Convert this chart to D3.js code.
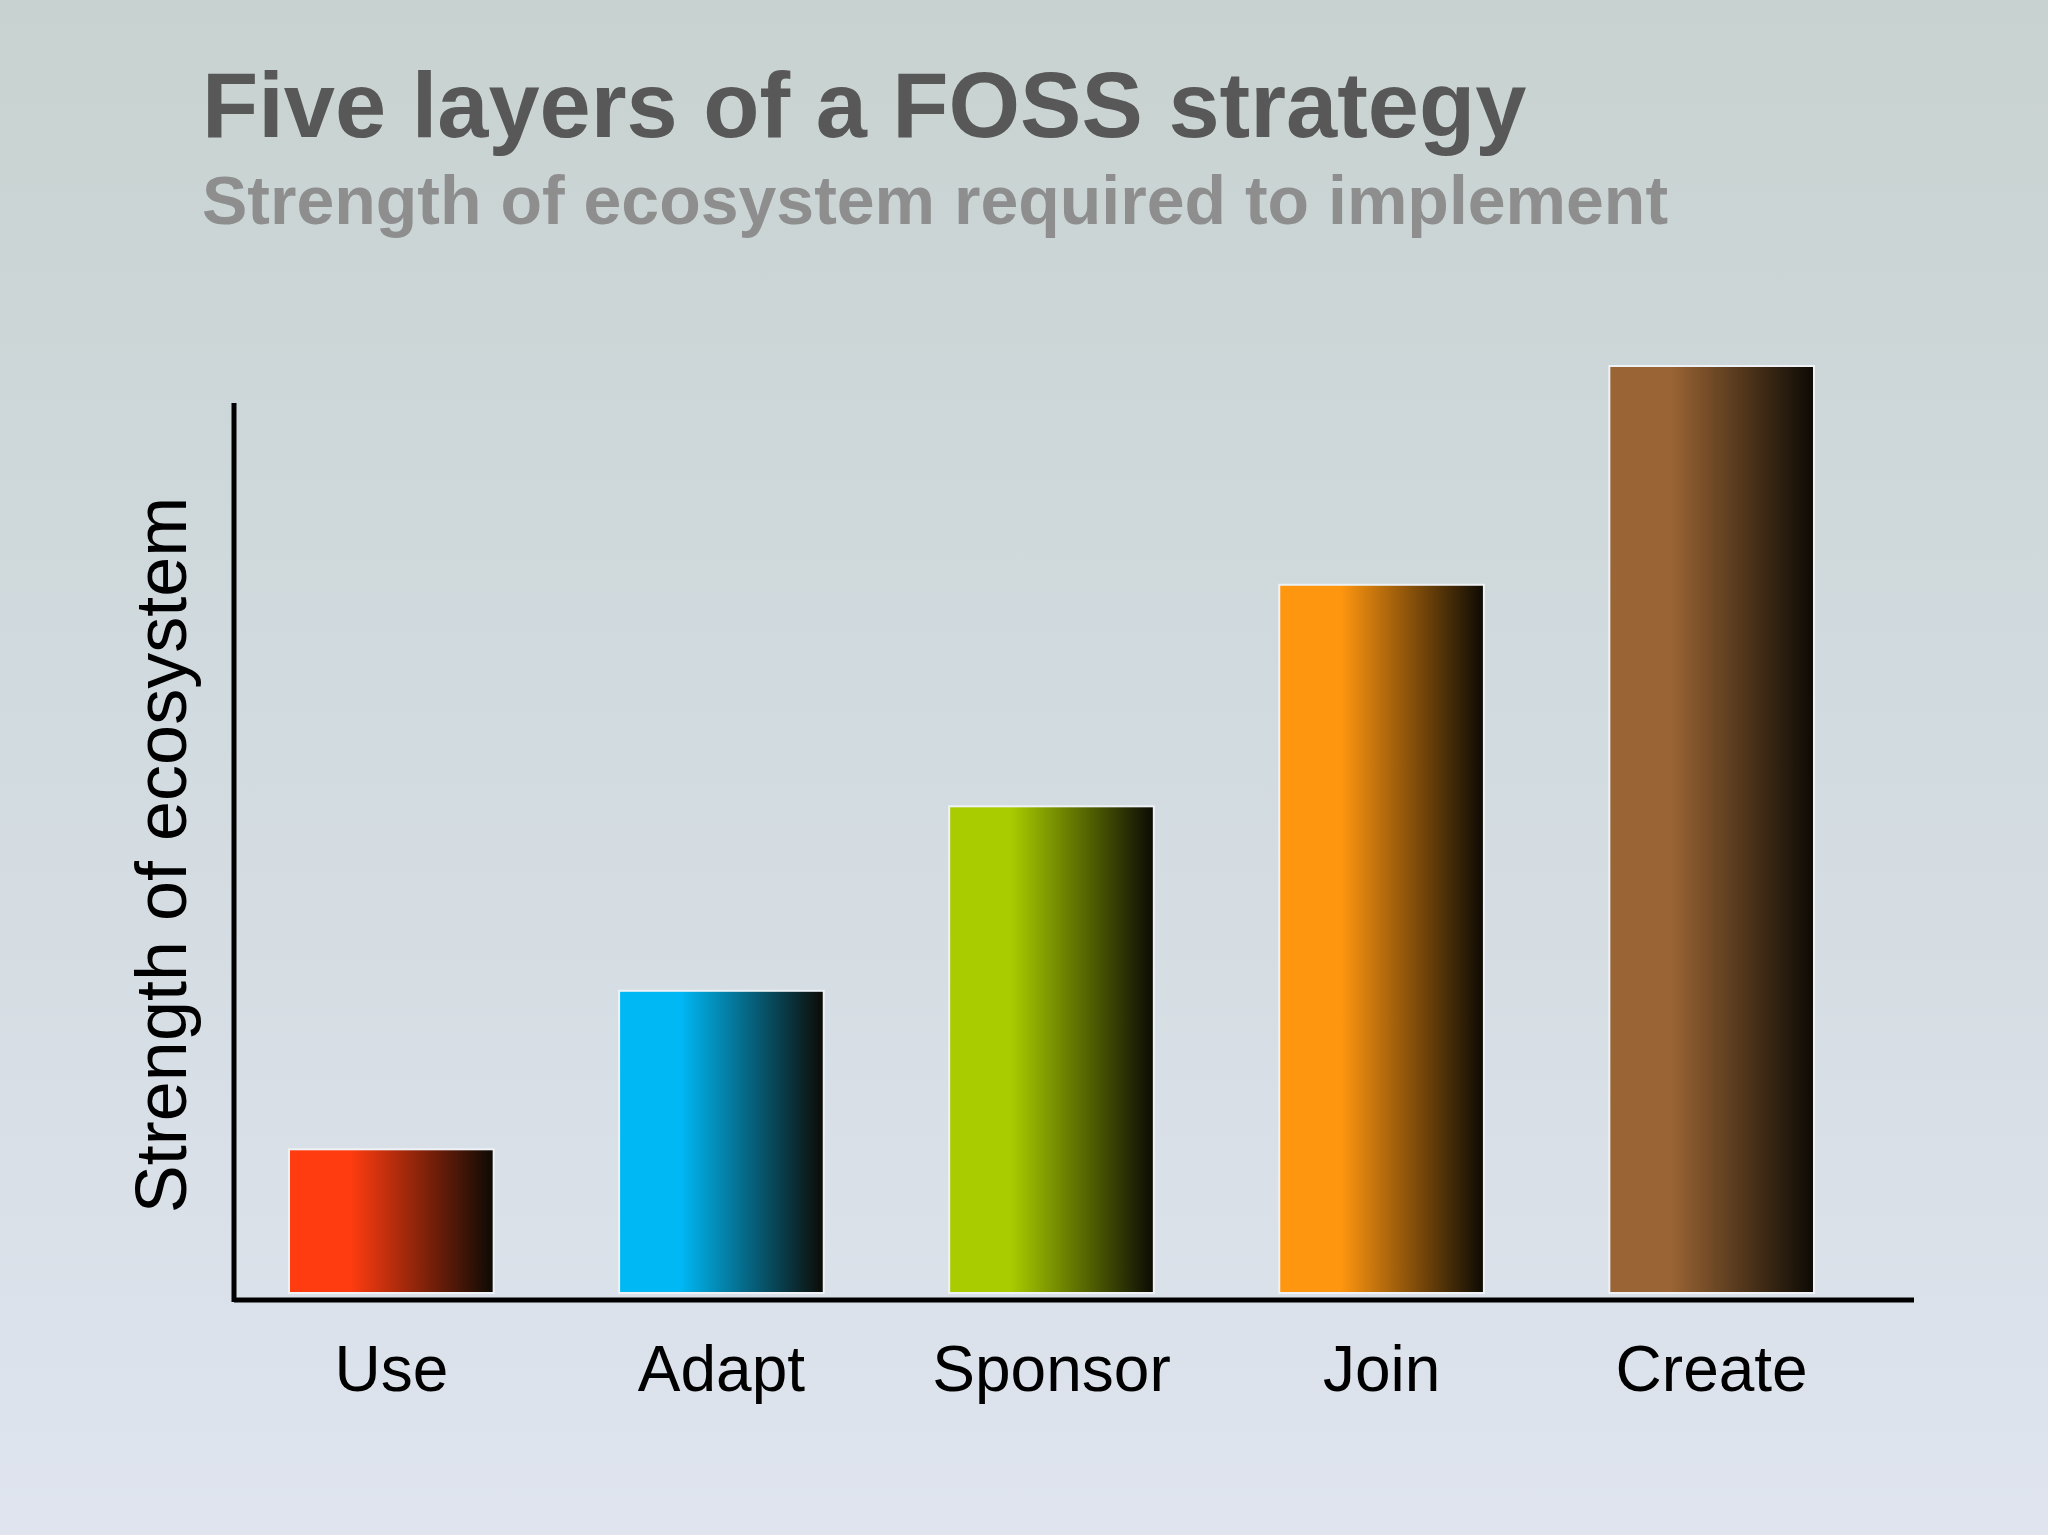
<!DOCTYPE html>
<html><head><meta charset="utf-8">
<script src="https://cdn.jsdelivr.net/npm/d3@7"></script>
<style>body{margin:0;overflow:hidden}svg{display:block}</style>
</head><body>
<script>
const categories = ["Use","Adapt","Sponsor","Join","Create"];
const values = [1.55, 3.26, 5.25, 7.64, 10];
const colors = ["#ff3c10","#00b8f4","#a8cc00","#ff9610","#9a6434"];
const title = "Five layers of a FOSS strategy";
const subtitle = "Strength of ecosystem required to implement";
const yLabel = "Strength of ecosystem";

const W=2048,H=1535;
const svg=d3.select("body").append("svg").attr("width",W).attr("height",H)
  .style("font-family","'Liberation Sans',Arial,sans-serif");
const defs=svg.append("defs");
const bg=defs.append("linearGradient").attr("id","bg").attr("x1",0).attr("y1",0).attr("x2",0).attr("y2",1);
bg.append("stop").attr("offset","0").attr("stop-color","#c8d2d0");
bg.append("stop").attr("offset","0.5").attr("stop-color","#d2dbe0");
bg.append("stop").attr("offset","1").attr("stop-color","#dfe4ee");
svg.append("rect").attr("width",W).attr("height",H).attr("fill","url(#bg)");

colors.forEach((c,i)=>{
  const g=defs.append("linearGradient").attr("id","g"+i);
  g.append("stop").attr("offset","0").attr("stop-color",c);
  g.append("stop").attr("offset","0.3").attr("stop-color",c);
  g.append("stop").attr("offset","1").attr("stop-color","#0c0a04");
});

svg.append("text").attr("x",202).attr("y",137).attr("font-size",92).attr("font-weight","bold")
  .attr("fill","#585858").text(title);
svg.append("text").attr("x",202).attr("y",224).attr("font-size",68).attr("font-weight","bold")
  .attr("fill","#8e8e8e").text(subtitle);

const x=d3.scaleBand().domain(categories).range([223,1880]).paddingInner(0.38).paddingOuter(0.2);
const y=d3.scaleLinear().domain([0,10]).range([1293,366]);

svg.selectAll(".bar").data(categories).enter().append("rect")
  .attr("x",d=>x(d)).attr("width",x.bandwidth())
  .attr("y",(d,i)=>y(values[i])).attr("height",(d,i)=>y(0)-y(values[i]))
  .attr("fill",(d,i)=>`url(#g${i})`).attr("stroke","#eef2f6").attr("stroke-width",2);

const ax=svg.append("g").attr("transform","translate(0,1300)").call(d3.axisBottom(x).tickSize(0).tickPadding(46));
ax.select(".domain").remove();
ax.selectAll("text").attr("font-size",64).attr("fill","#000").style("font-family","'Liberation Sans',Arial,sans-serif");
svg.append("line").attr("x1",234).attr("x2",1914).attr("y1",1300).attr("y2",1300).attr("stroke","#000").attr("stroke-width",5);
svg.append("line").attr("x1",234).attr("x2",234).attr("y1",403).attr("y2",1302).attr("stroke","#000").attr("stroke-width",5);

svg.append("text").attr("transform","translate(186,855) rotate(-90)").attr("text-anchor","middle")
  .attr("font-size",72).attr("fill","#000").text(yLabel);
</script>
</body></html>
